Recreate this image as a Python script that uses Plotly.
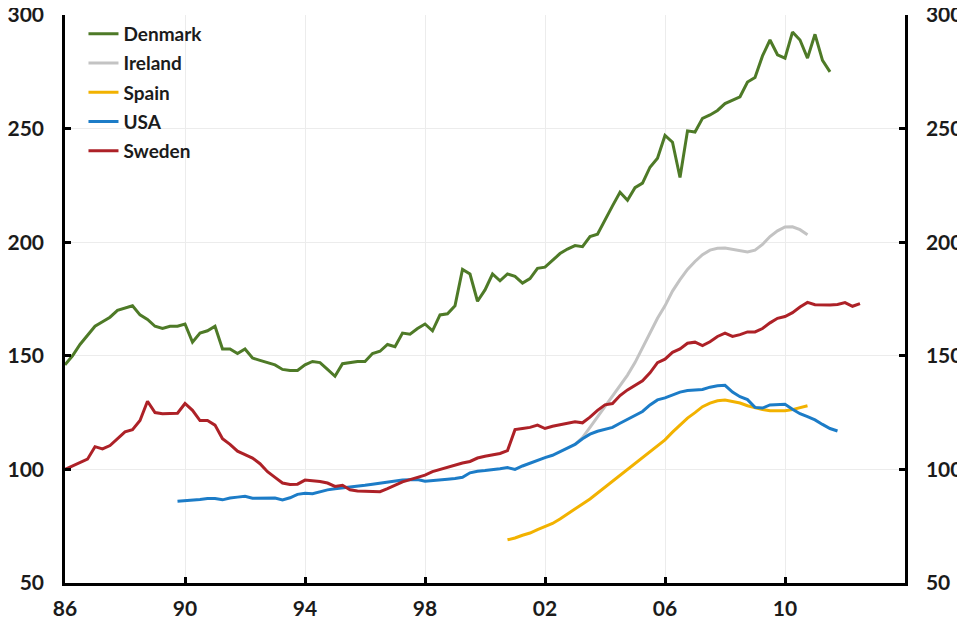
import plotly.graph_objects as go

# quarterly index values
DENMARK_START = 1986.0
DENMARK = [
    146, 150, 155, 159, 163, 165, 167, 170, 171, 172, 168, 166, 163, 162, 163, 163,
    164, 156, 160, 161, 163, 153, 153, 151, 153, 149, 148, 147, 146, 144, 143.5, 143.5,
    146, 147.5, 147, 144, 141, 146.5, 147, 147.5, 147.5, 151, 152, 155, 154, 160, 159.5, 162,
    164, 161, 168, 168.5, 172, 188, 186, 174, 179, 186, 183, 186, 185, 182, 184, 188.5,
    189, 192, 195, 197, 198.5, 198, 202.5, 203.5, 210, 216, 222, 218.5, 224, 226, 233, 237,
    247, 244, 228.5, 249, 248.5, 254.5, 256, 258, 261, 262.5, 264, 270.5, 272.5, 282, 289, 282.5,
    281, 292.5, 289, 281, 291.5, 280, 275,
]

IRELAND_START = 2003.0
IRELAND = [
    111, 114, 118.5, 123, 127.5, 132, 136.5, 141.5, 147, 153.5, 160.5, 166.5, 172, 178.5, 183.5, 188,
    191.5, 194.5, 196.5, 197.3, 197.4, 196.8, 196, 195.7, 196.5, 199, 202.5, 205, 206.7, 206.8, 205.5, 203.3,
]

SPAIN_START = 2000.75
SPAIN = [
    69, 69.8, 71, 72, 73.5, 75, 76.2, 78.2, 80.3, 82.6, 84.8, 87, 89.6, 92.2, 94.5, 97.2,
    99.8, 102.3, 104.8, 107.6, 110.2, 113, 116.4, 119.4, 122.6, 125, 127.6, 129.2, 130.2, 130.5, 130, 129.2,
    128, 127.1, 126.4, 125.8, 125.7, 125.8, 126.3, 127.2, 128,
]

USA_START = 1989.75
USA = [
    86, 86.2, 86.5, 86.8, 87.2, 87.2, 86.6, 87.4, 87.8, 88.2, 87.3, 87.3, 87.3, 87.4, 86.6, 87.5,
    89, 89.5, 89.3, 90.2, 91, 91.5, 91.8, 92.2, 92.4, 93, 93.5, 94, 94.3, 94.8, 95.3, 95.4,
    95.5, 94.8, 95, 95.4, 95.7, 96, 96.5, 98.5, 99.2, 99.5, 99.8, 100.3, 100.8, 100, 101.5, 102.7,
    104.2, 105.2, 106.2, 107.8, 109.5, 111, 113.5, 115.5, 116.8, 117.5, 118.5, 120.3, 122, 123.5, 125.5, 128.4,
    130.6, 131.5, 132.8, 134, 134.7, 134.9, 135.2, 136.2, 136.8, 137, 134, 132, 130.7, 127.3, 127, 128.4,
    128.6, 128.7, 126.5, 124.5, 123.2, 121.8, 119.8, 118, 116.9,
]

SWEDEN_START = 1986.0
SWEDEN = [
    100, 101.5, 103, 104.5, 110, 109, 110.5, 113.5, 116.5, 117.5, 121.5, 130, 125, 124.5, 124.7, 124.7,
    129, 126, 121.5, 121.5, 119.5, 113.5, 111, 108, 106.5, 105, 102.5, 99, 96.5, 94, 93.4, 93.5,
    95.3, 95, 94.7, 94, 92.5, 93, 91, 90.5, 90.3, 90.2, 90.2, 91.5, 93, 94.5, 95.5, 96.5,
    97.5, 99, 100, 101, 102, 102.8, 103.5, 105, 105.8, 106.5, 107, 108.3, 117.5, 118, 118.5, 119.5,
    118, 119, 119.6, 120.5, 121, 120.5, 123, 126, 128.4, 129, 132.5, 135, 137, 139, 142.5, 147,
    148.5, 151.5, 153, 155.5, 156, 154.5, 156.2, 158.5, 160, 158.5, 159.3, 160.5, 160.5, 162, 164.5, 166.5,
    167.3, 169, 171.5, 173.5, 172.5, 172.4, 172.4, 172.6, 173.4, 171.8, 173,
]

SERIES = [
    ("Denmark", DENMARK_START, DENMARK, "#4e7a27"),
    ("Ireland", IRELAND_START, IRELAND, "#c3c3c3"),
    ("Spain", SPAIN_START, SPAIN, "#f2b200"),
    ("USA", USA_START, USA, "#1c7cc7"),
    ("Sweden", SWEDEN_START, SWEDEN, "#ad2127"),
]

X_TICKS = [1986, 1990, 1994, 1998, 2002, 2006, 2010]
X_LABELS = ["86", "90", "94", "98", "02", "06", "10"]
Y_TICKS = [50, 100, 150, 200, 250, 300]

FONT = "Lato, 'Open Sans', sans-serif"
INK = "#1b1b1b"
GRID = "#ececec"

fig = go.Figure()
for name, start, values, color in SERIES:
    xs = [start + 0.25 * k for k in range(len(values))]
    fig.add_trace(
        go.Scatter(
            x=xs,
            y=values,
            mode="lines",
            name=name,
            legendgroup=name,
            line=dict(color=color, width=3),
        )
    )

# mirror axis on the right, same scale
fig.add_trace(go.Scatter(x=[1986], y=[50], yaxis="y2", mode="markers",
                         marker=dict(opacity=0), showlegend=False, hoverinfo="skip"))

axis_common = dict(
    showline=True,
    linecolor="black",
    linewidth=2.5,
    ticks="inside",
    ticklen=6,
    tickwidth=2.5,
    tickcolor="black",
    gridcolor=GRID,
    gridwidth=1,
    zeroline=False,
    automargin=False,
    ticklabeloverflow="allow",
    tickfont=dict(family=FONT, size=21, color=INK, weight="bold"),
)

# page body has an 8px margin, so the figure is sized to fit inside the window
fig.update_layout(
    width=957,
    height=612,
    paper_bgcolor="white",
    plot_bgcolor="white",
    margin=dict(l=57, r=60, t=7, b=37),
    font=dict(family=FONT, color=INK),
    xaxis=dict(
        axis_common,
        range=[1986, 2014],
        tickvals=X_TICKS,
        ticktext=X_LABELS,
        ticklabelstandoff=5,
    ),
    yaxis=dict(
        axis_common,
        range=[50, 300],
        tickvals=Y_TICKS,
        ticklabelstandoff=14,
    ),
    yaxis2=dict(
        axis_common,
        overlaying="y",
        side="right",
        range=[50, 300],
        tickvals=Y_TICKS,
        showgrid=False,
        ticklabelstandoff=14,
    ),
    legend=dict(
        x=0.022,
        y=1.0,
        xanchor="left",
        yanchor="top",
        bgcolor="rgba(0,0,0,0)",
        font=dict(family=FONT, size=19, color=INK, weight="bold"),
        itemwidth=30,
        tracegroupgap=1.5,
    ),
    showlegend=True,
)

fig.write_html("out.html")
